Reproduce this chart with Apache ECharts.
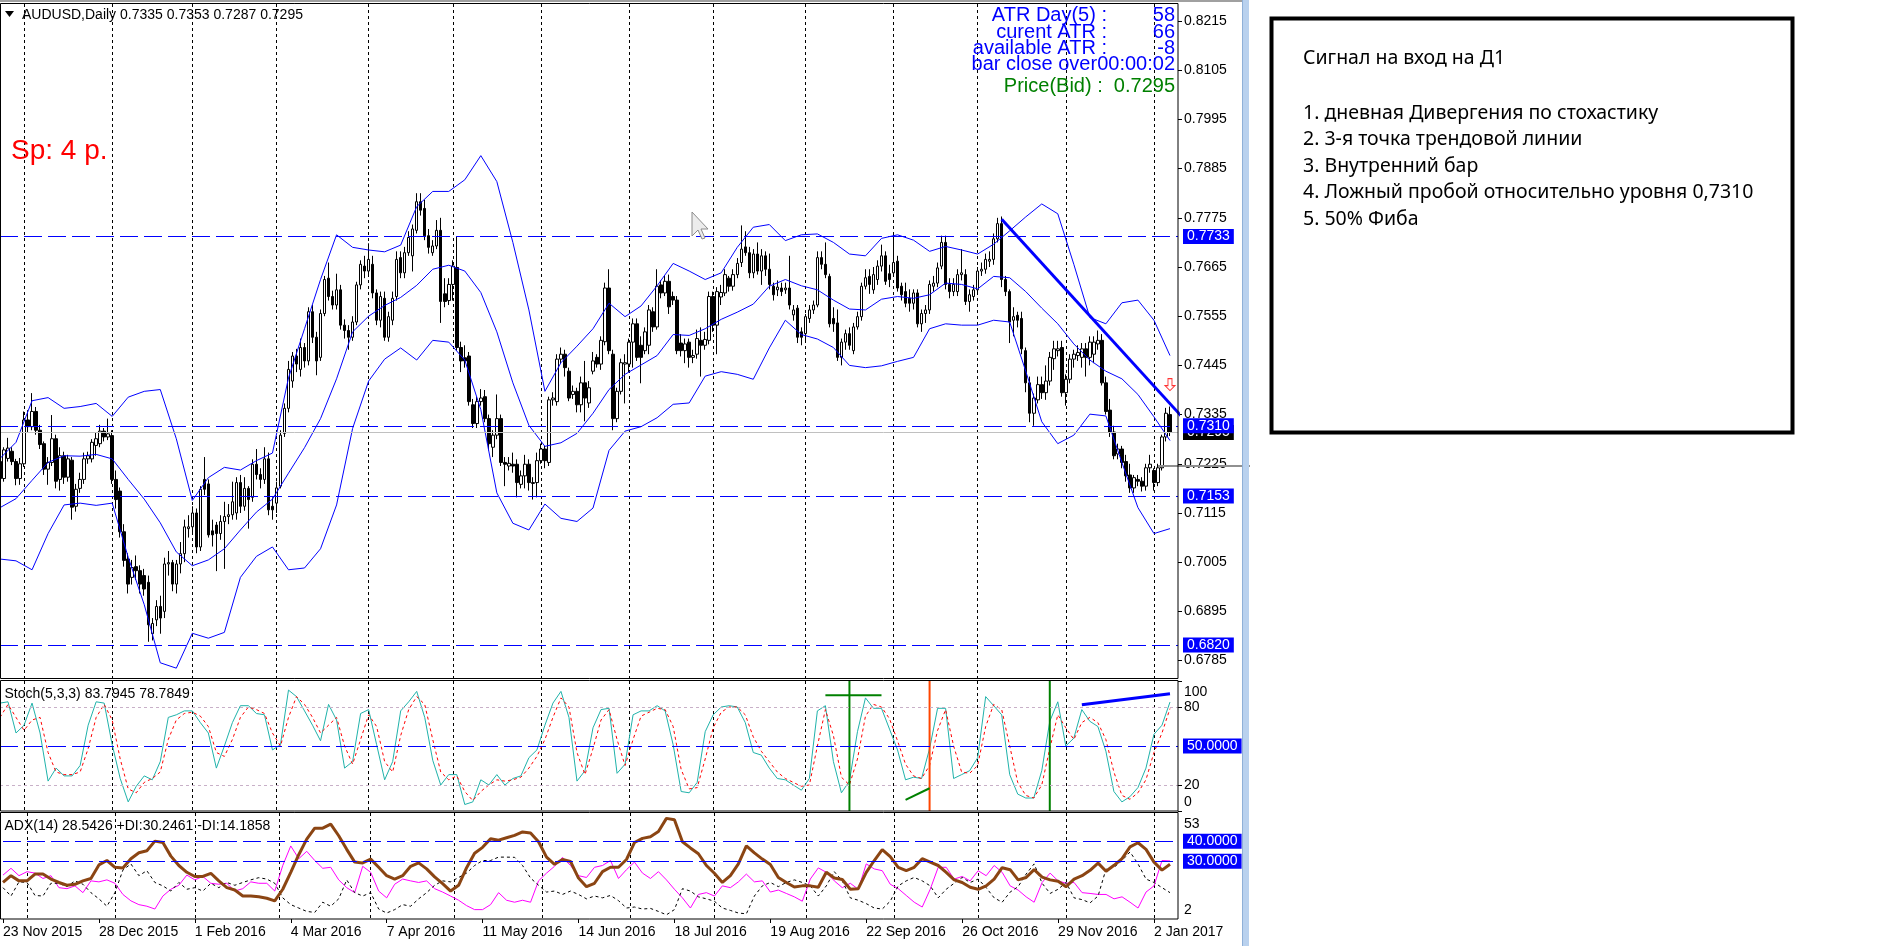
<!DOCTYPE html>
<html>
<head>
<meta charset="utf-8">
<title>AUDUSD Daily</title>
<script src="https://cdn.jsdelivr.net/npm/echarts@6/dist/echarts.min.js"></script>
<style>
html, body { margin: 0; padding: 0; background: #fff; }
#chart { width: 1883px; height: 946px; }
</style>
</head>
<body>
<div id="chart"></div>
<script>
// daily candles 23 Nov 2015 .. 6 Jan 2017, prices in pips (x 0.0001)
const opens = [
  7230,7192,7237,7253,7230,7192,7225,7323,7308,7342, 7300,7270,7213,7228,7281,7190,7243,7195,7233,7130,
  7170,7190,7236,7236,7266,7270,7298,7285,7288,7190, 7164,7073,7012,6971,6995,6986,6975,6960,6845,6876,
  6906,6895,7001,7004,6956,7001,7024,7080,7084,7115, 7039,7190,7180,7075,7088,7069,7096,7107,7111,7115,
  7183,7130,7170,7150,7224,7201,7190,7236,7130,7137, 7175,7293,7349,7410,7466,7436,7485,7455,7565,7508,
  7463,7561,7640,7599,7580,7614,7535,7523,7508,7542, 7625,7667,7656,7671,7607,7546,7595,7508,7546,7599,
  7686,7652,7697,7690,7747,7811,7796,7735,7697,7712, 7747,7605,7590,7626,7664,7485,7462,7466,7357,7315,
  7364,7375,7326,7262,7289,7326,7228,7220,7224,7224, 7179,7198,7224,7181,7183,7232,7258,7228,7368,7364,
  7459,7470,7432,7380,7387,7357,7406,7361,7432,7463, 7448,7498,7618,7470,7326,7387,7448,7448,7497,7538,
  7490,7478,7490,7565,7531,7625,7607,7633,7599,7591, 7495,7478,7497,7463,7470,7501,7490,7501,7599,7535,
  7598,7607,7640,7622,7648,7675,7710,7697,7652,7694, 7656,7690,7660,7622,7614,7618,7614,7618,7558,7573,
  7520,7516,7550,7569,7580,7686,7671,7644,7550,7540, 7463,7497,7516,7478,7531,7554,7622,7644,7614,7637,
  7667,7690,7650,7652,7678,7622,7610,7595,7584,7607, 7538,7561,7569,7622,7629,7667,7720,7626,7610,7610,
  7648,7648,7588,7599,7614,7656,7660,7678,7682,7728, 7762,7637,7610,7546,7557,7550,7478,7406,7338,7368,
  7402,7384,7410,7460,7478,7485,7384,7414,7459,7467, 7463,7482,7463,7470,7493,7501,7406,7345,7296,7247,
  7258,7230,7200,7171,7190,7186,7175,7216,7210,7183, 7216,7285,7335
];
const highs = [
  7238,7262,7283,7262,7236,7238,7342,7345,7383,7352, 7312,7275,7240,7334,7290,7262,7252,7245,7240,7180,
  7205,7250,7252,7280,7294,7312,7305,7326,7300,7210, 7172,7090,7025,7010,7020,6998,6990,6975,6880,6920,
  6930,7015,7030,7010,7010,7050,7100,7110,7130,7125, 7175,7240,7190,7100,7095,7110,7140,7135,7185,7195,
  7200,7195,7175,7235,7258,7215,7262,7250,7150,7185, 7300,7360,7455,7475,7482,7505,7495,7575,7580,7520,
  7570,7645,7675,7612,7650,7625,7548,7535,7555,7632, 7680,7690,7718,7690,7615,7610,7610,7565,7610,7700,
  7700,7710,7745,7760,7830,7830,7815,7750,7725,7770, 7775,7640,7640,7680,7733,7498,7490,7475,7370,7375,
  7392,7390,7335,7300,7380,7335,7240,7240,7250,7235, 7210,7245,7235,7195,7250,7270,7265,7375,7385,7470,
  7485,7480,7440,7400,7395,7420,7455,7410,7475,7470, 7510,7630,7660,7480,7395,7460,7470,7505,7550,7550,
  7510,7530,7580,7575,7660,7635,7645,7648,7610,7600, 7515,7505,7505,7480,7525,7530,7520,7610,7610,7620,
  7625,7660,7645,7660,7685,7758,7745,7710,7705,7720, 7705,7700,7695,7630,7635,7630,7630,7690,7580,7580,
  7530,7560,7580,7590,7700,7700,7720,7650,7575,7570, 7505,7525,7530,7540,7565,7630,7660,7660,7665,7680,
  7715,7700,7670,7743,7690,7630,7630,7615,7615,7615, 7570,7580,7635,7645,7675,7735,7735,7640,7640,7660,
  7705,7660,7615,7625,7665,7675,7695,7700,7740,7775, 7778,7645,7615,7575,7565,7565,7485,7420,7382,7420,
  7420,7445,7475,7500,7500,7500,7425,7470,7480,7490, 7495,7495,7510,7510,7523,7515,7420,7370,7310,7270,
  7265,7245,7225,7200,7200,7195,7225,7245,7215,7225, 7290,7350,7353
];
const lows = [
  7180,7185,7230,7222,7177,7178,7218,7296,7300,7290, 7258,7200,7178,7220,7170,7165,7180,7185,7100,7118,
  7160,7180,7225,7228,7243,7262,7275,7278,7180,7125, 7060,6995,6935,6955,6965,6935,6930,6827,6830,6862,
  6845,6880,6975,6940,6935,6980,7005,7060,7070,7025, 7030,7155,7060,7040,6985,7055,6990,7090,7100,7100,
  7115,7120,7080,7140,7190,7170,7180,7110,7100,7115, 7170,7285,7340,7395,7430,7420,7440,7445,7495,7423,
  7455,7555,7590,7570,7570,7525,7505,7480,7500,7535, 7615,7640,7645,7595,7535,7530,7500,7498,7535,7590,
  7640,7640,7690,7655,7740,7780,7725,7695,7690,7705, 7540,7575,7580,7590,7478,7430,7440,7355,7305,7305,
  7355,7318,7255,7240,7280,7220,7175,7210,7205,7150, 7170,7170,7165,7145,7150,7225,7215,7220,7355,7355,
  7450,7420,7365,7370,7340,7340,7320,7350,7425,7440, 7435,7490,7470,7300,7318,7380,7360,7430,7440,7455,
  7405,7470,7470,7520,7525,7595,7600,7560,7580,7470, 7465,7450,7440,7450,7460,7420,7480,7492,7520,7470,
  7580,7600,7610,7612,7640,7665,7690,7640,7640,7648, 7625,7645,7615,7590,7600,7600,7605,7570,7545,7495,
  7490,7500,7540,7560,7575,7660,7640,7530,7520,7455, 7445,7480,7480,7470,7525,7545,7615,7605,7605,7625,
  7655,7625,7620,7645,7610,7590,7575,7565,7570,7530, 7520,7540,7560,7610,7620,7660,7615,7595,7600,7600,
  7635,7580,7565,7590,7605,7645,7650,7665,7670,7720, 7620,7600,7495,7510,7530,7470,7385,7318,7310,7360,
  7370,7368,7400,7435,7465,7375,7355,7405,7440,7455, 7440,7420,7445,7450,7480,7400,7335,7285,7235,7235,
  7215,7185,7160,7160,7175,7163,7165,7205,7165,7175, 7210,7275,7287
];
const closes = [
  7192,7256,7260,7230,7192,7225,7323,7308,7342,7300, 7268,7213,7228,7281,7186,7243,7195,7236,7128,7168,
  7190,7236,7243,7273,7281,7298,7285,7292,7190,7145, 7073,7009,6956,6993,6986,6956,6945,6865,6868,6906,
  6880,7001,7004,6956,7001,7024,7084,7084,7115,7039, 7168,7168,7066,7066,7069,7096,7107,7111,7140,7183,
  7130,7170,7145,7224,7201,7190,7236,7122,7122,7171, 7289,7349,7436,7466,7448,7485,7455,7565,7508,7455,
  7561,7637,7599,7580,7614,7535,7523,7508,7542,7625, 7671,7656,7682,7607,7546,7599,7508,7554,7595,7682,
  7652,7697,7731,7750,7811,7792,7735,7709,7712,7747, 7588,7588,7626,7667,7485,7455,7455,7364,7315,7364,
  7372,7326,7270,7289,7326,7228,7224,7226,7220,7183, 7198,7224,7183,7183,7232,7258,7232,7368,7372,7459,
  7470,7440,7372,7387,7357,7406,7372,7395,7455,7448, 7501,7618,7478,7326,7387,7451,7451,7497,7538,7463,
  7463,7520,7569,7531,7622,7607,7633,7576,7591,7478, 7478,7493,7463,7467,7505,7490,7503,7599,7535,7610,
  7608,7648,7622,7648,7673,7705,7697,7652,7694,7656, 7690,7660,7626,7603,7620,7610,7618,7580,7569,7508,
  7508,7554,7569,7580,7686,7671,7648,7538,7538,7463, 7497,7516,7490,7531,7554,7622,7641,7626,7648,7667,
  7690,7633,7637,7675,7618,7603,7584,7584,7607,7538, 7561,7569,7626,7629,7663,7720,7626,7610,7626,7648,
  7652,7588,7603,7614,7656,7660,7682,7682,7728,7762, 7637,7610,7542,7554,7546,7482,7406,7338,7372,7402,
  7384,7410,7463,7482,7482,7384,7414,7459,7470,7474, 7482,7463,7497,7497,7501,7406,7342,7296,7243,7258,
  7228,7198,7171,7194,7186,7175,7216,7224,7183,7216, 7285,7338,7295
];

// Bollinger bands read every 4 bars (pips)
const bbUpper = [
  7237,7273,7366,7373,7349,7353,7360,7331,7374,7387, 7391,7281,7143,7194,7217,7211,7232,7249,7417,7527,
  7637,7737,7709,7703,7699,7714,7800,7834,7834,7860, 7914,7856,7720,7569,7387,7451,7488,7527,7584,7554,
  7578,7623,7673,7656,7637,7652,7709,7754,7760,7724, 7737,7739,7720,7694,7690,7729,7737,7725,7700,7711,
  7703,7694,7716,7746,7777,7806,7784,7671,7552,7538, 7585,7591,7546,7467
];
const bbMiddle = [
  7127,7147,7188,7228,7243,7242,7246,7236,7190,7146, 7093,7028,6997,7010,7035,7077,7117,7146,7204,7261,
  7326,7415,7520,7555,7579,7597,7624,7660,7669,7656, 7608,7520,7406,7311,7264,7272,7293,7338,7391,7425,
  7446,7467,7514,7512,7527,7548,7564,7582,7622,7637, 7623,7614,7591,7571,7569,7593,7599,7595,7603,7629,
  7626,7616,7644,7641,7610,7573,7538,7493,7457,7432, 7415,7380,7330,7277
];
const bbLower = [
  7012,7008,6988,7069,7133,7137,7132,7137,7016,6910, 6780,6768,6846,6835,6848,6971,7018,7039,6988,6992,
  7035,7133,7304,7410,7459,7484,7457,7501,7497,7457, 7346,7160,7092,7077,7135,7103,7096,7126,7255,7298,
  7308,7328,7358,7361,7421,7431,7425,7414,7484,7546, 7514,7504,7485,7445,7440,7444,7454,7463,7527,7538,
  7535,7535,7546,7542,7432,7319,7270,7289,7336,7332, 7228,7127,7069,7080
];

// Stochastic (5,3,3) read every 2 bars
const stochMain = [
  83,84,60,66,83,60,23,33,27,27, 35,66,84,83,51,25,7,19,27,24, 38,72,74,77,77,68,60,33,50,68,
  81,81,75,74,47,51,93,88,77,66, 54,82,70,33,38,75,78,51,24,38, 77,84,92,72,39,20,28,28,5,7,
  24,20,28,20,25,27,41,47,66,83, 92,72,23,31,64,78,79,29,36,74, 77,77,81,77,51,15,14,22,61,74,
  80,81,80,68,45,43,33,25,24,20, 16,25,77,81,38,14,23,61,87,79, 79,63,47,24,26,25,48,79,79,25,
  28,31,41,88,81,74,28,13,10,10, 31,69,84,50,56,78,69,65,46,15, 7,11,18,33,59,66,83.8
];
const stochSignal = [
  72,82,72,62,70,72,45,30,28,28, 30,48,72,82,70,40,17,14,22,25, 30,55,70,75,76,73,65,45,42,55,
  72,80,78,75,60,50,72,88,82,72, 60,66,72,50,36,55,74,65,38,30, 58,78,88,82,55,30,24,27,15,8,
  15,20,24,23,24,26,33,42,55,72, 87,80,45,28,48,70,78,55,35,55, 73,76,79,78,65,32,17,18,40,64,
  76,80,80,74,57,46,38,30,25,22, 19,20,50,78,58,26,20,40,73,82, 80,71,54,36,27,25,35,62,78,50,
  30,29,35,65,82,78,50,22,12,10, 20,48,74,64,55,68,72,68,55,30, 12,9,14,24,45,60,78.8
];

// ADX(14), +DI, -DI read every 2 bars
const adxLine = [
  19.4,22.8,20.2,20.2,23.6,23.6,21.1,19.4,18.0,18.5, 20.2,21.4,28.2,30.4,27.0,26.7,31.3,34.3,35.3,40.1,
  39.4,32.6,27.9,24.5,22.4,22.4,24.0,20.2,16.8,15.6, 12.6,12.6,12.2,11.5,10.2,16.0,24.5,33.3,41.1,46.6,
  46.6,48.6,42.8,36.0,29.6,29.2,31.1,27.0,22.8,21.1, 22.8,27.5,29.2,26.2,22.2,18.8,15.1,18.0,26.8,34.0,
  37.0,41.3,40.6,41.8,43.0,44.7,44.2,39.8,32.1,28.5, 30.9,29.9,21.6,17.3,19.0,24.8,27.0,27.0,30.9,39.4,
  41.5,42.3,44.9,51.5,50.8,39.8,36.7,33.8,27.9,24.0, 19.4,22.8,28.7,37.7,34.2,31.1,28.4,21.9,19.4,17.1,
  17.7,17.7,17.0,24.5,21.6,20.9,16.0,16.3,24.5,30.4, 35.9,32.3,27.0,25.3,27.0,31.3,29.6,27.9,24.5,20.7,
  19.4,17.0,16.0,17.7,21.1,26.8,25.8,20.7,21.9,25.8, 22.1,20.7,20.0,17.3,21.1,22.8,25.5,29.1,25.0,28.0,
  31.3,37.2,39.3,36.0,29.6,25.6,28.5
];
const plusDI = [
  23.1,26.5,22.8,24.8,24.1,21.4,22.8,16.8,16.3,17.7, 14.3,20.2,19.7,20.7,19.0,13.4,10.2,8.3,7.5,6.1,
  12.6,16.0,18.0,23.1,20.7,22.4,19.0,18.5,19.0,15.1, 16.3,19.7,19.0,19.0,15.1,27.9,37.7,31.3,35.0,30.4,
  26.5,27.0,20.7,16.8,14.3,27.5,24.5,15.1,11.7,18.5, 21.1,20.2,19.4,20.2,16.3,14.6,12.6,10.5,7.8,5.8,
  5.8,8.3,14.3,10.5,9.5,10.5,9.5,20.2,24.1,27.5, 32.0,27.9,22.8,21.9,27.0,27.9,30.4,21.4,25.8,29.6,
  24.1,21.4,24.8,20.7,16.0,11.7,6.6,13.4,14.3,12.6, 17.7,16.8,19.7,23.6,19.7,20.2,14.6,15.6,13.9,12.2,
  10.0,21.1,26.7,24.5,20.2,16.8,19.0,16.0,28.7,26.2, 25.3,18.5,16.3,12.9,9.5,7.1,16.0,27.0,27.0,21.1,
  22.4,20.2,25.3,22.8,27.9,24.5,17.7,15.6,12.2,9.5, 19.4,24.1,20.2,19.0,19.4,14.3,13.9,13.4,13.4,11.2,
  12.2,9.5,6.6,14.6,17.7,30.4,30.2
];
const minusDI = [
  16.8,12.6,19.7,19.4,12.9,12.6,19.0,19.0,17.3,20.2, 18.5,14.3,11.2,7.5,14.3,25.6,28.7,22.8,25.3,19.4,
  17.7,15.1,19.4,16.0,16.8,15.1,19.0,16.8,19.4,18.0, 19.4,20.7,21.8,21.1,19.0,11.7,8.3,6.6,4.9,4.4,
  9.5,7.5,11.2,20.7,14.3,12.6,14.3,6.1,4.1,5.8, 8.3,7.5,11.2,14.3,18.0,20.2,19.7,21.9,24.1,27.9,
  30.4,30.4,32.1,32.1,32.0,27.9,21.6,18.0,14.6,15.1, 13.4,15.1,13.4,11.2,12.6,11.7,12.9,10.3,6.6,7.1,
  6.1,6.4,4.9,3.2,5.8,16.3,15.1,12.2,11.2,10.0, 6.6,5.4,4.1,3.7,12.6,17.7,19.4,17.3,19.4,20.7,
  19.4,17.7,12.6,17.7,24.8,20.2,11.7,10.5,8.8,6.6, 6.1,10.0,17.7,20.2,21.9,20.2,17.7,11.7,16.0,19.0,
  21.9,19.4,21.1,16.8,11.7,9.5,14.6,17.3,23.6,28.7, 19.0,13.9,16.0,19.4,11.7,10.8,9.2,12.6,26.2,27.0,
  30.4,34.7,28.7,21.1,19.4,16.8,14.3
];

// axes
const dateLabels = ['23 Nov 2015', '28 Dec 2015', '1 Feb 2016', '4 Mar 2016', '7 Apr 2016', '11 May 2016',
  '14 Jun 2016', '18 Jul 2016', '19 Aug 2016', '22 Sep 2016', '26 Oct 2016', '29 Nov 2016', '2 Jan 2017'];
const monthStarts = [6, 28, 48, 69, 92, 113, 135, 157, 178, 201, 223, 244, 266, 288];
const priceTicks = [0.8215, 0.8105, 0.7995, 0.7885, 0.7775, 0.7665, 0.7555, 0.7445, 0.7335, 0.7225,
  0.7115, 0.7005, 0.6895, 0.6785];
const priceLevels = [0.7733, 0.7310, 0.7153, 0.6820];
const bidPrice = 0.7295;

const PIP = 10000;
const FONT = '"Liberation Sans", Arial, sans-serif';
const NOTE_FONT = '19.5px "Noto Sans", sans-serif';
const X0 = -0.8; // pixel x of the first bar
const cats = [];
for (let i = 0; i < opens.length + 2; i++) cats.push(String(i));
const candles = opens.map((o, i) => [o / PIP, closes[i] / PIP, lows[i] / PIP, highs[i] / PIP]);
const stepped = (arr, step, scale) => arr.map((v, k) => [k * step, v / scale]);

const labelEvery = (idx) => idx % 24 === 0 && idx <= 288;
const dashBlue = { color: '#0000ff', type: [18, 6], width: 1 };

function levelLabel(bg) {
  return {
    show: true, position: 'end', distance: 5,
    formatter: (p) => Number(p.value).toFixed(4),
    color: '#fff', backgroundColor: bg, padding: [1, 4, 0, 4],
    fontSize: 14, fontFamily: FONT, lineHeight: 14
  };
}

function xAxisFor(gi, withLabels) {
  return {
    type: 'category', gridIndex: gi, data: cats, boundaryGap: false,
    axisLine: { show: false },
    axisTick: withLabels ? { show: true, interval: labelEvery, length: 4, lineStyle: { color: '#000' } } : { show: false },
    axisLabel: withLabels ? {
      show: true, interval: labelEvery, align: 'left', margin: 6,
      formatter: (v, idx) => dateLabels[idx / 24],
      color: '#000', fontSize: 14, fontFamily: FONT
    } : { show: false },
    splitLine: {
      show: true, interval: (idx) => monthStarts.includes(idx),
      lineStyle: { color: '#000', type: [3, 3], width: 1 }
    }
  };
}

const lineS = (data, xi, color, width, type, z) => ({
  type: 'line', xAxisIndex: xi, yAxisIndex: xi, data, symbol: 'none', silent: true,
  lineStyle: { color, width, type: type || 'solid' }, z: z || 3, animation: false
});

const chart = echarts.init(document.getElementById('chart'));
chart.setOption({
  animation: false,
  backgroundColor: '#ffffff',
  grid: [
    { left: X0, top: 4, width: 1178 - X0, height: 674 },
    { left: X0, top: 681, width: 1178 - X0, height: 130 },
    { left: X0, top: 813, width: 1178 - X0, height: 106 }
  ],
  xAxis: [xAxisFor(0, false), xAxisFor(1, false), xAxisFor(2, true)],
  yAxis: [
    {
      type: 'value', gridIndex: 0, position: 'right', min: 0.6746, max: 0.82531,
      axisLine: { show: false }, splitLine: { show: false },
      axisTick: { show: true, customValues: priceTicks, length: 4, lineStyle: { color: '#000' } },
      axisLabel: { customValues: priceTicks, formatter: (v) => v.toFixed(4), color: '#000', fontSize: 14, fontFamily: FONT, margin: 6 }
    },
    {
      type: 'value', gridIndex: 1, position: 'right', min: 0, max: 100,
      axisLine: { show: false }, splitLine: { show: false },
      axisTick: { show: true, customValues: [100, 80, 20, 0], length: 4, lineStyle: { color: '#000' } },
      axisLabel: {
        customValues: [100, 80, 20, 0], margin: 6, color: '#000', fontSize: 14, fontFamily: FONT,
        formatter: (v) => v === 100 ? '{t|100}' : (v === 0 ? '{b|0}' : String(v)),
        rich: {
          t: { padding: [22, 0, 0, 0], fontSize: 14, fontFamily: FONT, color: '#000' },
          b: { padding: [0, 0, 18, 0], fontSize: 14, fontFamily: FONT, color: '#000' }
        }
      }
    },
    {
      type: 'value', gridIndex: 2, position: 'right', min: 1.1, max: 54.2,
      axisLine: { show: false }, splitLine: { show: false },
      axisTick: { show: false },
      axisLabel: {
        customValues: [53, 2], margin: 6, color: '#000', fontSize: 14, fontFamily: FONT,
        formatter: (v) => v === 53 ? '{t|53}' : '{b|2}',
        rich: {
          t: { padding: [18, 0, 0, 0], fontSize: 14, fontFamily: FONT, color: '#000' },
          b: { padding: [0, 0, 14, 0], fontSize: 14, fontFamily: FONT, color: '#000' }
        }
      }
    }
  ],
  series: [
    {
      type: 'candlestick', xAxisIndex: 0, yAxisIndex: 0, data: candles, barWidth: 3, clip: false,
      silent: true, z: 2,
      itemStyle: { color: '#ffffff', color0: '#000000', borderColor: '#000000', borderColor0: '#000000', borderWidth: 1 },
      markLine: {
        symbol: 'none', silent: true, animation: false, precision: 4,
        data: [
          { yAxis: bidPrice, lineStyle: { color: '#c0c0c0', type: 'solid', width: 1 }, label: levelLabel('#000000') }
        ].concat(priceLevels.map((v) => ({ yAxis: v, lineStyle: dashBlue, label: levelLabel('#0000ff') })))
      }
    },
    lineS(stepped(bbUpper, 4, PIP), 0, '#0000ff', 1),
    lineS(stepped(bbMiddle, 4, PIP), 0, '#0000ff', 1),
    lineS(stepped(bbLower, 4, PIP), 0, '#0000ff', 1),
    // trend line from the 9 Nov high
    lineS([[250, 0.7772], [294.5, 0.7330]], 0, '#0000ff', 3, 'solid', 4),
    {
      type: 'scatter', xAxisIndex: 0, yAxisIndex: 0, data: [[291.8, 0.7402]], silent: true, z: 5,
      symbol: 'path://M3,0 L7,0 L7,7 L10,7 L5,12 L0,7 L3,7 Z', symbolSize: [10, 12],
      itemStyle: { color: '#ffffff', borderColor: '#ff0000', borderWidth: 1 }
    },
    // stochastic
    Object.assign(lineS(stepped(stochMain, 2, 1), 1, '#20b2aa', 1), {
      markLine: {
        symbol: 'none', silent: true, animation: false, precision: 4,
        data: [
          { yAxis: 80, lineStyle: { color: '#c8b0c8', type: [3, 3], width: 1 }, label: { show: false } },
          { yAxis: 20, lineStyle: { color: '#c8b0c8', type: [3, 3], width: 1 }, label: { show: false } },
          { yAxis: 50, lineStyle: dashBlue, label: levelLabel('#0000ff') }
        ]
      }
    }),
    lineS(stepped(stochSignal, 2, 1), 1, '#ff0000', 1, [3, 3]),
    lineS([[205.5, 89], [219.5, 89]], 1, '#008000', 2, 'solid', 4),
    lineS([[212.3, 100], [212.3, 0]], 1, '#008000', 2, 'solid', 4),
    lineS([[232.2, 100], [232.2, 0]], 1, '#ff4500', 2, 'solid', 4),
    lineS([[262.3, 100], [262.3, 0]], 1, '#008000', 2, 'solid', 4),
    lineS([[226.4, 8.5], [231.5, 17.5]], 1, '#008000', 2, 'solid', 4),
    lineS([[270.3, 81.8], [292.4, 90.2]], 1, '#0000ff', 3, 'solid', 4),
    // ADX
    Object.assign(lineS(stepped(adxLine, 2, 1), 2, '#8b4513', 3, 'solid', 4), {
      markLine: {
        symbol: 'none', silent: true, animation: false, precision: 4,
        data: [
          { yAxis: 40, lineStyle: dashBlue, label: levelLabel('#0000ff') },
          { yAxis: 30, lineStyle: dashBlue, label: levelLabel('#0000ff') }
        ]
      }
    }),
    lineS(stepped(plusDI, 2, 1), 2, '#ff00ff', 1),
    lineS(stepped(minusDI, 2, 1), 2, '#000000', 1, [3, 3])
  ],
  graphic: [
    { type: 'rect', z: 100, shape: { x: 0, y: 0, width: 1249, height: 2 }, style: { fill: '#a0a0a0' } },
    { type: 'rect', z: 100, shape: { x: 0.5, y: 3.5, width: 1177.5, height: 675 }, style: { fill: 'none', stroke: '#000', lineWidth: 1 } },
    { type: 'rect', z: 100, shape: { x: 0.5, y: 680.5, width: 1177.5, height: 130.5 }, style: { fill: 'none', stroke: '#000', lineWidth: 1 } },
    { type: 'rect', z: 100, shape: { x: 0.5, y: 812.5, width: 1177.5, height: 106.5 }, style: { fill: 'none', stroke: '#000', lineWidth: 1 } },
    { type: 'rect', z: 100, shape: { x: 1242, y: 0, width: 7, height: 946 }, style: { fill: '#b9d1ee' } },
    { type: 'rect', z: 100, shape: { x: 1242, y: 0, width: 1, height: 946 }, style: { fill: '#8fb0d8' } },
    { type: 'rect', z: 90, shape: { x: 1158, y: 465, width: 92, height: 2 }, style: { fill: '#909090' } },
    // header
    { type: 'polygon', z: 100, shape: { points: [[5, 11], [14, 11], [9.5, 17]] }, style: { fill: '#000' } },
    { type: 'text', z: 100, style: { x: 22, y: 15, text: 'AUDUSD,Daily 0.7335 0.7353 0.7287 0.7295', fill: '#000', font: '14px ' + FONT, verticalAlign: 'middle' } },
    { type: 'text', z: 100, style: { x: 11, y: 151, text: 'Sp: 4 p.', fill: '#ff0000', font: '28px ' + FONT, verticalAlign: 'middle' } },
    // ATR block
    { type: 'text', z: 100, style: { x: 1107, y: 15.5, text: 'ATR Day(5) :', fill: '#0000ff', font: '20px ' + FONT, align: 'right', verticalAlign: 'middle' } },
    { type: 'text', z: 100, style: { x: 1175, y: 15.5, text: '58', fill: '#0000ff', font: '20px ' + FONT, align: 'right', verticalAlign: 'middle' } },
    { type: 'text', z: 100, style: { x: 1107, y: 32, text: 'curent ATR :', fill: '#0000ff', font: '20px ' + FONT, align: 'right', verticalAlign: 'middle' } },
    { type: 'text', z: 100, style: { x: 1175, y: 32, text: '66', fill: '#0000ff', font: '20px ' + FONT, align: 'right', verticalAlign: 'middle' } },
    { type: 'text', z: 100, style: { x: 1107, y: 48, text: 'available ATR :', fill: '#0000ff', font: '20px ' + FONT, align: 'right', verticalAlign: 'middle' } },
    { type: 'text', z: 100, style: { x: 1175, y: 48, text: '-8', fill: '#0000ff', font: '20px ' + FONT, align: 'right', verticalAlign: 'middle' } },
    { type: 'text', z: 100, style: { x: 1175, y: 64, text: 'bar close over00:00:02', fill: '#0000ff', font: '20px ' + FONT, align: 'right', verticalAlign: 'middle' } },
    { type: 'text', z: 100, style: { x: 1175, y: 86.5, text: 'Price(Bid) :  0.7295', fill: '#008000', font: '20px ' + FONT, align: 'right', verticalAlign: 'middle' } },
    // indicator titles
    { type: 'text', z: 100, style: { x: 4.5, y: 694, text: 'Stoch(5,3,3) 83.7945 78.7849', fill: '#000', font: '14px ' + FONT, verticalAlign: 'middle' } },
    { type: 'text', z: 100, style: { x: 4.5, y: 826, text: 'ADX(14) 28.5426 +DI:30.2461 -DI:14.1858', fill: '#000', font: '14px ' + FONT, verticalAlign: 'middle' } },
    // mouse cursor
    { type: 'polygon', z: 100, shape: { points: [[692, 212], [692, 236], [698, 230], [702, 239], [705, 238], [701, 229], [708, 229]] }, style: { fill: '#ececec', stroke: '#8c8c8c', lineWidth: 1 } },
    // note box
    { type: 'rect', z: 100, shape: { x: 1271.5, y: 18.5, width: 521, height: 414 }, style: { fill: '#fff', stroke: '#000', lineWidth: 4 } },
    { type: 'text', z: 101, style: { x: 1303, y: 58, text: 'Сигнал на вход на Д1', fill: '#000', font: NOTE_FONT, verticalAlign: 'middle' } },
    { type: 'text', z: 101, style: { x: 1303, y: 113, text: '1. дневная Дивергения по стохастику', fill: '#000', font: NOTE_FONT, verticalAlign: 'middle' } },
    { type: 'text', z: 101, style: { x: 1303, y: 139.5, text: '2. 3-я точка трендовой линии', fill: '#000', font: NOTE_FONT, verticalAlign: 'middle' } },
    { type: 'text', z: 101, style: { x: 1303, y: 166, text: '3. Внутренний бар', fill: '#000', font: NOTE_FONT, verticalAlign: 'middle' } },
    { type: 'text', z: 101, style: { x: 1303, y: 192.5, text: '4. Ложный пробой относительно уровня 0,7310', fill: '#000', font: NOTE_FONT, verticalAlign: 'middle' } },
    { type: 'text', z: 101, style: { x: 1303, y: 219.5, text: '5. 50% Фиба', fill: '#000', font: NOTE_FONT, verticalAlign: 'middle' } }
  ]
});
</script>
</body>
</html>
